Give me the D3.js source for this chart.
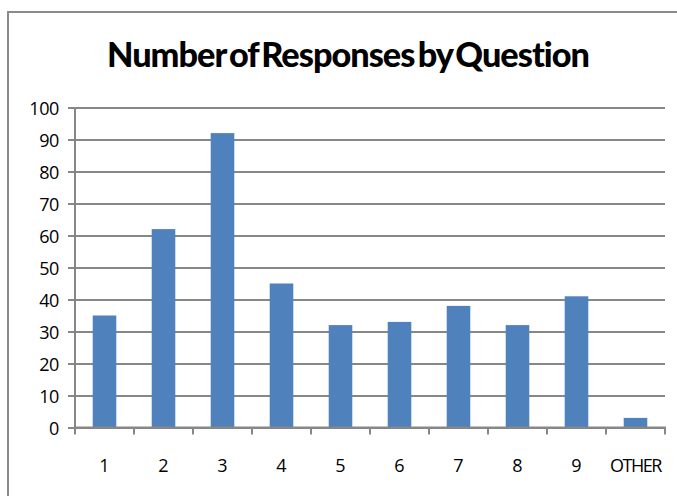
<!DOCTYPE html>
<html>
<head>
<meta charset="utf-8">
<script src="https://cdn.jsdelivr.net/npm/d3@7"></script>
<style>
  html, body { margin: 0; padding: 0; background: #fff; }
  svg { display: block; }
</style>
</head>
<body>
<svg id="chart" width="677" height="496"></svg>
<script>
const categories = ["1", "2", "3", "4", "5", "6", "7", "8", "9", "OTHER"];
const responses = [35, 62, 92, 45, 32, 33, 38, 32, 41, 3];
const yTicks = [0, 10, 20, 30, 40, 50, 60, 70, 80, 90, 100];
const title = "Number of Responses by Question";

const svg = d3.select("#chart");
const W = 677, H = 496;
const plot = { left: 75, right: 665, top: 107.5, bottom: 427.5 };
const gridColor = "#878787";
const barColor = "#4F81BD";
const font = "'Open Sans', 'Noto Sans', sans-serif";

// Chart outer border (only top and left visible in frame)
svg.append("path")
  .attr("d", `M8,${H + 5} L8,12 L${W + 5},12`)
  .attr("fill", "none")
  .attr("stroke", "#8a8a8a")
  .attr("stroke-width", 2);

// Title
svg.append("text")
  .attr("x", 107)
  .attr("y", 67)
  .attr("textLength", 482)
  .attr("lengthAdjust", "spacingAndGlyphs")
  .attr("font-family", "Lato, 'Open Sans', sans-serif")
  .attr("font-weight", "900")
  .attr("font-size", 35)
  .attr("letter-spacing", -1)
  .attr("word-spacing", -4)
  .attr("fill", "#000")
  .text(title);

const x = d3.scaleBand()
  .domain(categories)
  .range([plot.left, plot.right])
  .paddingInner(0.6)
  .paddingOuter(0.3);

const xBand = d3.scaleBand()
  .domain(categories)
  .range([plot.left, plot.right])
  .padding(0);

const y = d3.scaleLinear()
  .domain([0, 100])
  .range([plot.bottom, plot.top]);

// Y axis with gridlines
const yAxis = d3.axisLeft(y)
  .tickValues(yTicks)
  .tickSize(plot.left - 68)
  .tickPadding(9)
  .tickFormat(d3.format("d"));

const gy = svg.append("g")
  .attr("transform", `translate(${plot.left},0)`)
  .call(yAxis);
gy.select(".domain")
  .attr("stroke", gridColor)
  .attr("stroke-width", 2)
  .attr("d", `M0,${plot.top}V${plot.bottom}`);
gy.selectAll(".tick line")
  .attr("stroke", gridColor)
  .attr("stroke-width", 2)
  .attr("x1", 0)
  .attr("x2", -(plot.left - 68));
gy.selectAll(".tick")
  .append("line")
  .attr("x1", 0)
  .attr("x2", plot.right - plot.left)
  .attr("stroke", gridColor)
  .attr("stroke-width", 2);
gy.selectAll(".tick text")
  .attr("font-family", font)
  .attr("font-size", 18)
  .attr("letter-spacing", -0.4)
  .attr("fill", "#000")
  .attr("dy", "0.38em");

// Bars
svg.append("g")
  .selectAll("rect")
  .data(responses)
  .join("rect")
  .attr("x", (d, i) => x(categories[i]))
  .attr("width", x.bandwidth())
  .attr("y", d => y(d))
  .attr("height", d => y(0) - y(d))
  .attr("fill", barColor);

// X axis: ticks at category boundaries
const boundaries = categories.map(c => xBand(c)).concat([plot.right]);
const gx = svg.append("g");
gx.append("line")
  .attr("x1", plot.left - 1)
  .attr("x2", plot.right + 1)
  .attr("y1", y(0))
  .attr("y2", y(0))
  .attr("stroke", gridColor)
  .attr("stroke-width", 2);
gx.selectAll("line.tk")
  .data(boundaries)
  .join("line")
  .attr("class", "tk")
  .attr("x1", d => d)
  .attr("x2", d => d)
  .attr("y1", y(0))
  .attr("y2", y(0) + 7)
  .attr("stroke", gridColor)
  .attr("stroke-width", 2);
gx.selectAll("text")
  .data(categories)
  .join("text")
  .attr("x", d => xBand(d) + xBand.bandwidth() / 2)
  .attr("y", 472)
  .attr("text-anchor", "middle")
  .attr("font-family", font)
  .attr("font-size", 18)
  .attr("fill", "#000")
  .attr("letter-spacing", d => d.length > 1 ? -1.5 : 0)
  .text(d => d);
</script>
</body>
</html>
